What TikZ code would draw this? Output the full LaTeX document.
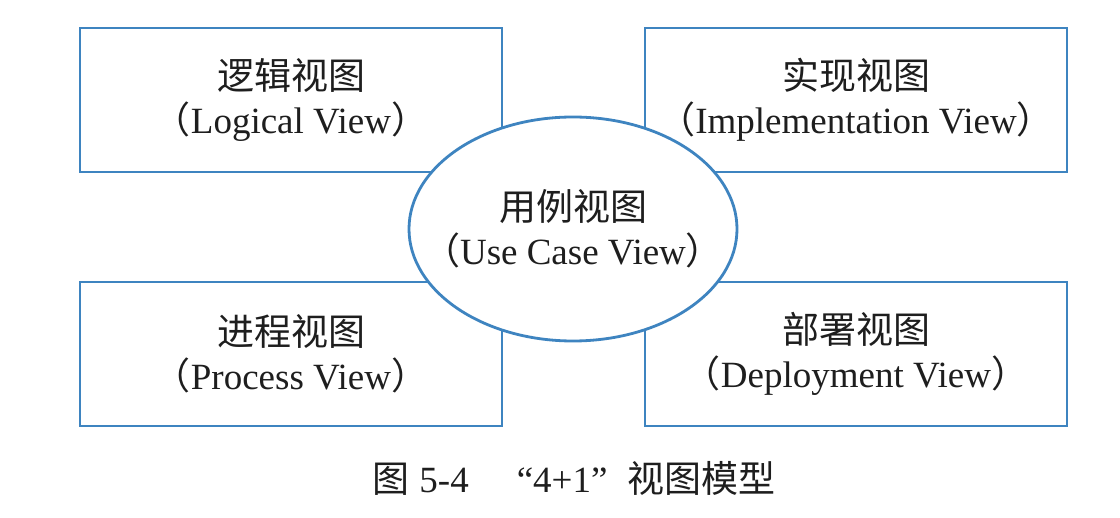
\documentclass[tikz,border=0pt]{standalone}
\usepackage{fontspec}
\setmainfont{Liberation Serif}
\newfontfamily\cjk{Noto Sans CJK SC}
\usetikzlibrary{shapes.geometric}
\definecolor{viewblue}{RGB}{62,132,192}
\definecolor{inkgray}{RGB}{30,30,30}
\newcommand\viewfont{\fontsize{18.5}{22}\selectfont}
\newcommand\fwl{{\cjk （}}
\newcommand\fwr{{\cjk ）}}

\begin{document}
\begin{tikzpicture}[x=0.5pt, y=-0.5pt, thick]
\tikzstyle{every node} = [text=inkgray, font=\viewfont, align=center, inner sep=0pt]
\tikzstyle{viewbox} = [draw=viewblue, line width=1.4pt, fill=white, minimum width=211pt, minimum height=72pt]
\tikzstyle{usecase} = [ellipse, draw=viewblue, line width=1.4pt, fill=white, minimum width=164pt, minimum height=112pt]
\useasboundingbox (0,0) rectangle (1120,518);
% the four views
\node[viewbox] (logical) at (291,100) {{\cjk 逻辑视图}\\\fwl Logical View\fwr};
\node[viewbox] (impl) at (856,100) {{\cjk 实现视图}\\\fwl Implementation View\fwr};
\node[viewbox] (process) at (291,354) {{\cjk 进程视图}\\\fwl Process View\fwr};
\node[viewbox] (deploy) at (856,354) {{\cjk 部署视图}\\\fwl Deployment View\fwr};
% the +1 in the middle, text as a centred label so the ellipse keeps its size
\node[usecase, label={[align=center]center:{\cjk 用例视图}\\\fwl Use Case View\fwr}] (usecase) at (573,229) {};
\node (caption) at (574,478) {{\cjk 图}\hspace{5pt}5-4\hspace{24pt}“4+1”\hspace{10pt}{\cjk 视图模型}};
\end{tikzpicture}
\end{document}
